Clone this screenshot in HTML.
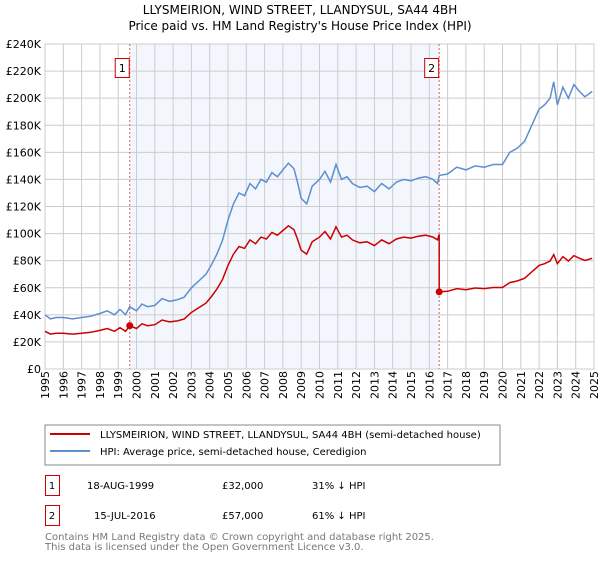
<!DOCTYPE html>
<html><head><meta charset="utf-8">
<style>
body{margin:0;background:#fff;font-family:"DejaVu Sans","Liberation Sans",sans-serif;}
svg text{font-family:"DejaVu Sans","Liberation Sans",sans-serif;}
</style></head>
<body>
<svg id="c" width="600" height="560" viewBox="0 0 600 560">
<text x="300" y="14" text-anchor="middle" font-size="12">LLYSMEIRION, WIND STREET, LLANDYSUL, SA44 4BH</text>
<text x="300" y="30" text-anchor="middle" font-size="12">Price paid vs. HM Land Registry's House Price Index (HPI)</text>
<g id="plot"></g>
<g>
<rect x="45" y="425" width="455" height="40" fill="#fff" stroke="#888"/>
<line x1="50" y1="434" x2="90" y2="434" stroke="#cc0000" stroke-width="2"/>
<text x="100" y="438" font-size="10">LLYSMEIRION, WIND STREET, LLANDYSUL, SA44 4BH (semi-detached house)</text>
<line x1="50" y1="451" x2="90" y2="451" stroke="#5b8fd0" stroke-width="2"/>
<text x="100" y="455" font-size="10">HPI: Average price, semi-detached house, Ceredigion</text>
</g>
<g font-size="10">
<rect x="45.5" y="475.5" width="14" height="20" fill="none" stroke="#cc0000"/>
<text x="52" y="489" text-anchor="middle">1</text>
<text x="87" y="489">18-AUG-1999</text>
<text x="222" y="489">£32,000</text>
<text x="312" y="489">31% ↓ HPI</text>
<rect x="45.5" y="505.5" width="14" height="20" fill="none" stroke="#cc0000"/>
<text x="52" y="519" text-anchor="middle">2</text>
<text x="94" y="519">15-JUL-2016</text>
<text x="222" y="519">£57,000</text>
<text x="312" y="519">61% ↓ HPI</text>
</g>
<text x="45" y="540" font-size="10" fill="#777">Contains HM Land Registry data © Crown copyright and database right 2025.</text>
<text x="45" y="550" font-size="10" fill="#777">This data is licensed under the Open Government Licence v3.0.</text>
</svg>
<script>
const hpiYears=[1995,1995.3,1995.6,1996,1996.5,1997,1997.5,1998,1998.4,1998.8,1999.1,1999.4,1999.63,2000,2000.3,2000.6,2001,2001.4,2001.8,2002.2,2002.6,2003,2003.4,2003.8,2004.1,2004.4,2004.7,2005,2005.3,2005.6,2005.9,2006.2,2006.5,2006.8,2007.1,2007.4,2007.7,2008,2008.3,2008.6,2008.8,2009,2009.3,2009.6,2010,2010.3,2010.6,2010.9,2011.2,2011.5,2011.8,2012.2,2012.6,2013,2013.4,2013.8,2014.2,2014.6,2015,2015.4,2015.8,2016.2,2016.45,2016.54,2017,2017.5,2018,2018.5,2019,2019.5,2020,2020.4,2020.8,2021.2,2021.6,2022,2022.3,2022.6,2022.8,2023,2023.3,2023.6,2023.9,2024.2,2024.5,2024.9];
const hpiValues=[40,37,38,38,37,38,39,41,43,40,44,40,46,43,48,46,47,52,50,51,53,60,65,70,77,85,95,110,122,130,128,137,133,140,138,145,142,147,152,148,138,126,122,135,140,146,138,151,140,142,137,134,135,131,137,133,138,140,139,141,142,140,137,143,144,149,147,150,149,151,151,160,163,168,180,192,195,200,212,195,208,200,210,205,201,205];
const sales=[{t:1999.63,v:32,label:"1"},{t:2016.54,v:57,label:"2"}];
const yTicks=[0,20,40,60,80,100,120,140,160,180,200,220,240];
const yLabels=["£0","£20K","£40K","£60K","£80K","£100K","£120K","£140K","£160K","£180K","£200K","£220K","£240K"];
const xTicks=[1995,1996,1997,1998,1999,2000,2001,2002,2003,2004,2005,2006,2007,2008,2009,2010,2011,2012,2013,2014,2015,2016,2017,2018,2019,2020,2021,2022,2023,2024,2025];

const X0=45,X1=594,Y0=369,Y1=44;
const sx=t=>X0+(t-1995)/30*(X1-X0);
const sy=v=>Y0-(v/240)*(Y0-Y1);
const NS="http://www.w3.org/2000/svg";
const g=document.getElementById('plot');
function mk(tag,attrs){const e=document.createElementNS(NS,tag);for(const k in attrs)e.setAttribute(k,attrs[k]);g.appendChild(e);return e;}
function hpiAt(t){for(let i=0;i<hpiYears.length-1;i++){if(t>=hpiYears[i]&&t<=hpiYears[i+1]){const f=(t-hpiYears[i])/(hpiYears[i+1]-hpiYears[i]);return hpiValues[i]+f*(hpiValues[i+1]-hpiValues[i]);}}return hpiValues[hpiValues.length-1];}

let sh=mk('rect',{x:sx(sales[0].t),y:Y1,width:sx(sales[1].t)-sx(sales[0].t),height:Y0-Y1,fill:'#eef3fc',opacity:0.7});


yTicks.forEach((v,i)=>{
 let l=mk('line',{x1:X0,x2:X1,y1:sy(v),y2:sy(v),stroke:'#cccccc'});
 
 
 let t=mk('text',{x:X0-4,y:sy(v)+4,'text-anchor':'end','font-size':11});
 t.textContent=yLabels[i];
 
 
});
xTicks.forEach(yr=>{
 let l=mk('line',{x1:sx(yr),x2:sx(yr),y1:Y1,y2:Y0,stroke:'#cccccc'});
 
 
 let t=mk('text',{x:sx(yr),y:Y0+2,'text-anchor':'end','font-size':11,transform:`rotate(-90 ${sx(yr)} ${Y0+2})`,dy:4});
 t.textContent=yr;
 
 
});
let fr=mk('rect',{x:X0,y:Y1,width:X1-X0,height:Y0-Y1,fill:'none',stroke:'#cccccc'});


sales.forEach(s=>{
 let l=mk('line',{x1:sx(s.t),x2:sx(s.t),y1:Y1,y2:Y0,stroke:'#e06060','stroke-dasharray':'2,2'});
 
 
 let r=mk('rect',{x:sx(s.t)-14.5,y:58.5,width:14,height:19,fill:'#fff',stroke:'#cc0000'});
 
 
 let t=mk('text',{x:sx(s.t)-7.5,y:72,'text-anchor':'middle','font-size':11});
 t.textContent=s.label;
 
 
});
let hp=hpiYears.map((t,i)=>`${sx(t).toFixed(1)},${sy(hpiValues[i]).toFixed(1)}`).join(' ');
let hl=mk('polyline',{points:hp,fill:'none',stroke:'#5b8fd0','stroke-width':1.5});


let pts=[];
const h1=hpiAt(sales[0].t),h2=hpiAt(sales[1].t);
hpiYears.forEach((t,i)=>{
 let v;
 if(t<sales[1].t) v=sales[0].v*hpiValues[i]/h1;
 else v=sales[1].v*hpiValues[i]/h2;
 if(t===sales[1].t) pts.push(`${sx(t).toFixed(1)},${sy(sales[0].v*hpiAt(t-0.001)/h1).toFixed(1)}`);
 pts.push(`${sx(t).toFixed(1)},${sy(v).toFixed(1)}`);
});
let pl=mk('polyline',{points:pts.join(' '),fill:'none',stroke:'#cc0000','stroke-width':1.5});


sales.forEach(s=>{
 let c=mk('circle',{cx:sx(s.t),cy:sy(s.v),r:3.5,fill:'#cc0000'});
 
 
});
</script>
</body></html>
